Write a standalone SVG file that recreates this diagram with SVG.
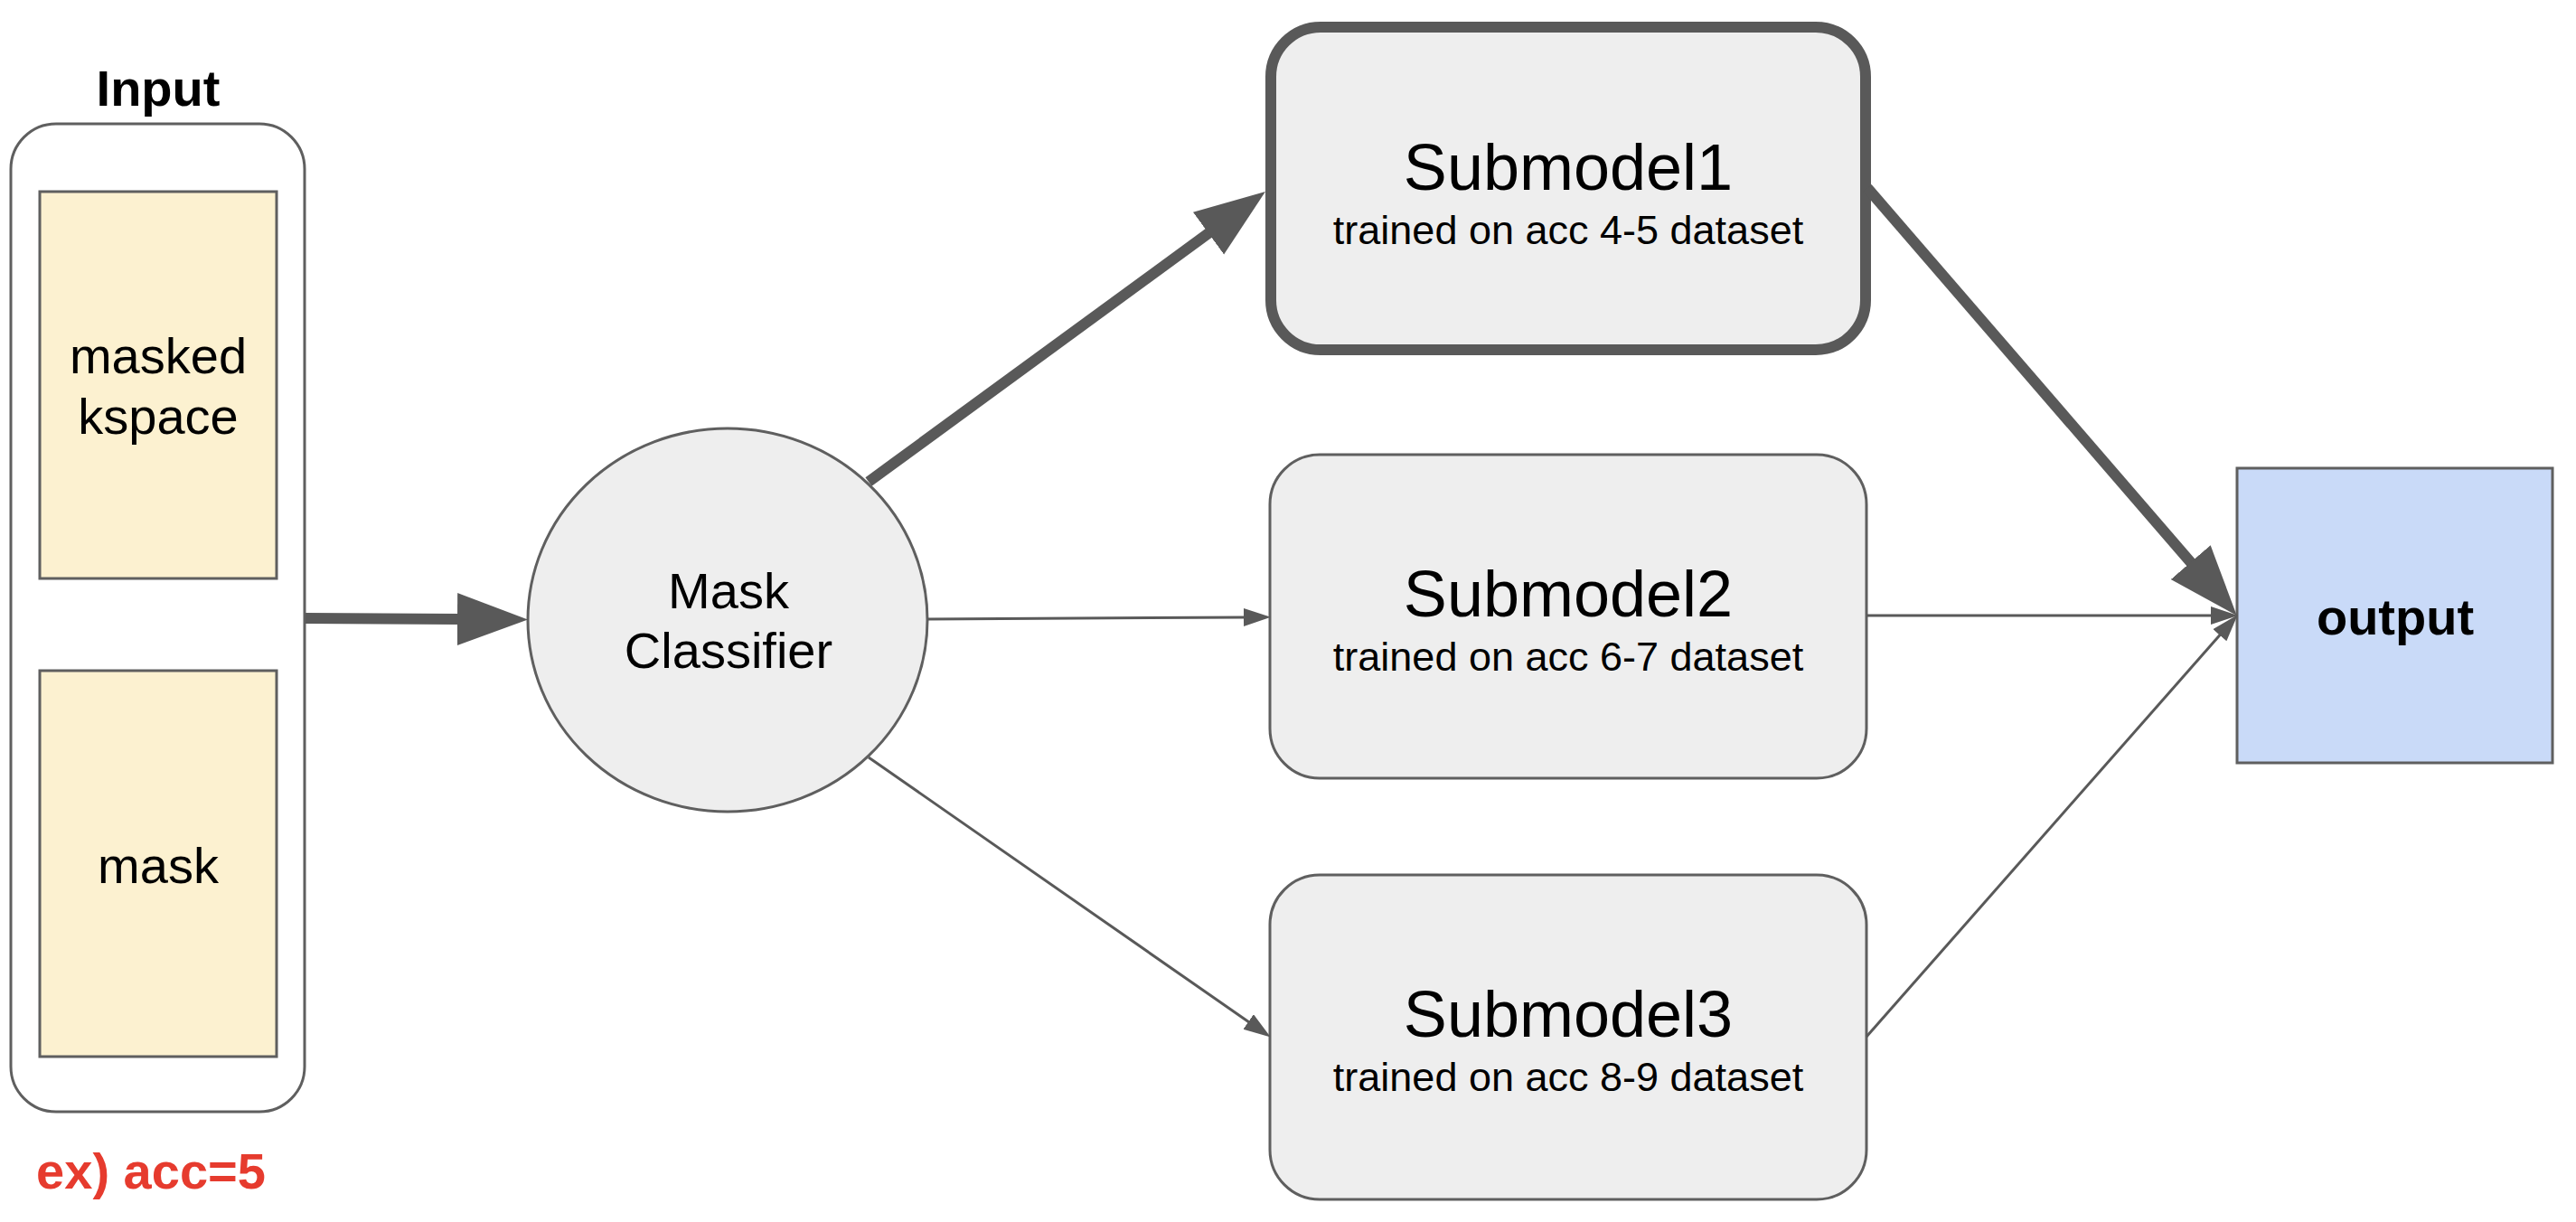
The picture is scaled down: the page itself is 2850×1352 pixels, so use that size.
<svg xmlns="http://www.w3.org/2000/svg" width="2850" height="1352" viewBox="0 0 2850 1352">
<style>
  text { font-family: "Liberation Sans", Arial, sans-serif; fill: #000; text-anchor: middle; }
  .b { font-weight: bold; }
  .t56 { font-size: 56px; }
  .title { font-size: 72px; }
  .sub { font-size: 45px; }
  .red { fill: #e63b2e; }
  .ibox { fill: #fcf1d0; stroke: #5f5f5f; stroke-width: 3; }
  .gbox { fill: #eeeeee; stroke: #5f5f5f; stroke-width: 3; }
  .thick { stroke: #595959; stroke-width: 12; fill: none; }
  .thin { stroke: #595959; stroke-width: 3; fill: none; }
</style>
<defs>
  <marker id="headBig" markerUnits="userSpaceOnUse" markerWidth="80" markerHeight="60" refX="2" refY="29" orient="auto" viewBox="0 0 80 60">
    <path d="M0,0 L78,29 L0,58 z" fill="#595959"/>
  </marker>
  <marker id="headSmall" markerUnits="userSpaceOnUse" markerWidth="32" markerHeight="22" refX="1" refY="10" orient="auto" viewBox="0 0 32 22">
    <path d="M0,0 L30,10 L0,20 z" fill="#595959"/>
  </marker>
</defs>

<g id="input">
  <text class="b t56" x="175" y="117">Input</text>
  <rect x="12" y="137" width="325" height="1093" rx="50" ry="50" fill="#ffffff" stroke="#5f5f5f" stroke-width="3"/>
</g>
<g id="masked-kspace">
  <rect class="ibox" x="44" y="212" width="262" height="428"/>
  <text class="t56" x="175" y="413">masked</text>
  <text class="t56" x="175" y="480">kspace</text>
</g>
<g id="mask">
  <rect class="ibox" x="44" y="742" width="262" height="427"/>
  <text class="t56" x="175" y="977">mask</text>
</g>
<g id="example">
  <text class="b t56 red" x="167" y="1315">ex) acc=5</text>
</g>

<g id="mask-classifier">
  <ellipse class="gbox" cx="805" cy="686" rx="221" ry="212"/>
  <text class="t56" x="806" y="673">Mask</text>
  <text class="t56" x="806" y="739">Classifier</text>
</g>

<g id="submodel1">
  <rect x="1406" y="30" width="658" height="357" rx="55" ry="55" fill="#eeeeee" stroke="#595959" stroke-width="12"/>
  <text class="title" x="1735" y="210">Submodel1</text>
  <text class="sub" x="1735" y="270">trained on acc 4-5 dataset</text>
</g>
<g id="submodel2">
  <rect class="gbox" x="1405" y="503" width="660" height="358" rx="55" ry="55"/>
  <text class="title" x="1735" y="682">Submodel2</text>
  <text class="sub" x="1735" y="742">trained on acc 6-7 dataset</text>
</g>
<g id="submodel3">
  <rect class="gbox" x="1405" y="968" width="660" height="359" rx="55" ry="55"/>
  <text class="title" x="1735" y="1147">Submodel3</text>
  <text class="sub" x="1735" y="1207">trained on acc 8-9 dataset</text>
</g>

<g id="output">
  <rect x="2475" y="518" width="349" height="326" fill="#c9daf8" stroke="#5f5f5f" stroke-width="3"/>
  <text class="b t56" x="2650" y="702">output</text>
</g>

<g id="connectors">
  <line class="thick" x1="338" y1="684" x2="508" y2="685" marker-end="url(#headBig)"/>
  <line class="thick" x1="961" y1="533" x2="1338.6" y2="256.9" marker-end="url(#headBig)"/>
  <line class="thin" x1="1026" y1="685" x2="1377" y2="683" marker-end="url(#headSmall)"/>
  <line class="thin" x1="961" y1="838" x2="1382" y2="1131" marker-end="url(#headSmall)"/>
  <line class="thick" x1="2066" y1="208" x2="2425" y2="623.6" marker-end="url(#headBig)"/>
  <line class="thin" x1="2065" y1="681" x2="2447" y2="681" marker-end="url(#headSmall)"/>
  <line class="thin" x1="2065" y1="1147" x2="2456.5" y2="702" marker-end="url(#headSmall)"/>
</g>
</svg>
